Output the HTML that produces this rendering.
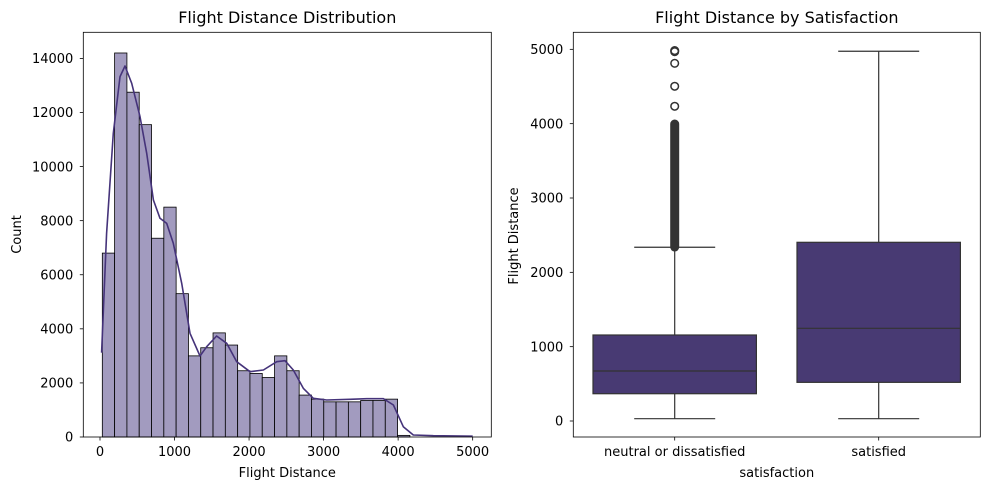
<!DOCTYPE html>
<html><head><meta charset="utf-8"><style>
html,body{margin:0;padding:0;background:#fff;}
svg{display:block;font-family:"DejaVu Sans","Liberation Sans",sans-serif;}
</style></head><body>
<svg id="chart" width="989" height="490" viewBox="0 0 989 490"></svg>
<script>
const histEdgesStart = 31;
const histBinWidth = 165.07;
const histCounts = [6800,14200,12750,11550,7350,8500,5300,3000,3300,3850,3400,2450,2350,2200,3000,2450,1550,1400,1300,1300,1300,1350,1350,1400,60,0,0,0,0,0];
const kdeX = [22,89,179,268,335,425,537,626,716,805,895,984,1096,1208,1342,1431,1565,1700,1834,2013,2192,2371,2482,2594,2728,2862,3041,3354,3578,3802,3936,4070,4204,4472,5000];
const kdeY = [3118,7532,11230,13325,13720,13078,11846,10490,8764,8086,7900,7162,5683,3834,2995,3340,3735,3464,2785,2415,2477,2785,2822,2477,1800,1430,1368,1393,1417,1417,1183,382,74,49,30];
const histXTicks = [0,1000,2000,3000,4000,5000];
const histYTicks = [0,2000,4000,6000,8000,10000,12000,14000];
const boxCategories = ["neutral or dissatisfied","satisfied"];
const boxWhiskerLow = [31,31];
const boxQ1 = [367,520];
const boxMedian = [673,1247];
const boxQ3 = [1157,2404];
const boxWhiskerHigh = [2337,4974];
const denseOutlierLow = [2340,null];
const denseOutlierHigh = [3995,null];
const isolatedOutliers = [4234,4503,4812,4969,4983];
const boxYTicks = [0,1000,2000,3000,4000,5000];

const NS="http://www.w3.org/2000/svg";
const svg=document.getElementById('chart');
function mk(tag,attrs,parent){const e=document.createElementNS(NS,tag);for(const k in attrs)e.setAttribute(k,attrs[k]);(parent||svg).appendChild(e);return e;}
function txt(s,attrs){const t=mk('text',attrs);t.textContent=s;return t;}
const TF=13, TT=16;

// ---------- Left: histogram ----------
const L={x0:83.3,x1:491.3,y0:32.3,y1:437};
const hx=v=>100+v*0.074533;
const hy=v=>437-v*0.027043;
const g1=mk('g',{});


histCounts.forEach((c,i)=>{
  if(c<=0)return;
  const a=histEdgesStart+i*histBinWidth;
  const r=mk('rect',{x:hx(a),y:hy(c),width:hx(a+histBinWidth)-hx(a),height:hy(0)-hy(c),fill:'#a29bbf',stroke:'#000','stroke-width':0.8},g1);
  
  
});
const kp=kdeX.map((x,i)=>hx(x).toFixed(1)+','+hy(kdeY[i]).toFixed(1)).join(' ');
const kl=mk('polyline',{points:kp,fill:'none',stroke:'#45337a','stroke-width':1.6,'stroke-linejoin':'round'},g1);


const f1=mk('rect',{x:L.x0,y:L.y0,width:L.x1-L.x0,height:L.y1-L.y0,fill:'none',stroke:'#000','stroke-width':0.8});


histXTicks.forEach(t=>{
  mk('line',{x1:hx(t),x2:hx(t),y1:L.y1,y2:L.y1+3.5,stroke:'#000','stroke-width':0.8});
  const e=txt(String(t),{x:hx(t),y:L.y1+19,'font-size':TF,'text-anchor':'middle',fill:'#000'});
  
  
});
histYTicks.forEach(t=>{
  mk('line',{x1:L.x0-3.5,x2:L.x0,y1:hy(t),y2:hy(t),stroke:'#000','stroke-width':0.8});
  const e=txt(String(t),{x:L.x0-10,y:hy(t)+4.7,'font-size':TF,'text-anchor':'end',fill:'#000'});
  
  
});
let e;
e=txt('Flight Distance Distribution',{x:(L.x0+L.x1)/2,y:23,'font-size':TT,'text-anchor':'middle'});


e=txt('Flight Distance',{x:(L.x0+L.x1)/2,y:477,'font-size':TF,'text-anchor':'middle'});


e=txt('Count',{x:0,y:0,'font-size':TF,'text-anchor':'middle',transform:'translate(21,234.5) rotate(-90)'});



// ---------- Right: boxplot ----------
const R={x0:573.3,x1:980.3,y0:32.3,y1:437};
const by=v=>421-v*0.074333;
const bcx=i=>674.7+i*204;
const halfW=81.7, capW=40.5;
const g2=mk('g',{});


boxCategories.forEach((c,i)=>{
  const cx=bcx(i);
  const st={stroke:'#333','stroke-width':1.2};
  let w=mk('line',Object.assign({x1:cx,x2:cx,y1:by(boxQ3[i]),y2:by(boxWhiskerHigh[i])},st),g2);
  
  
  w=mk('line',Object.assign({x1:cx,x2:cx,y1:by(boxQ1[i]),y2:by(boxWhiskerLow[i])},st),g2);
  
  
  mk('line',Object.assign({x1:cx-capW,x2:cx+capW,y1:by(boxWhiskerHigh[i]),y2:by(boxWhiskerHigh[i])},st),g2);
  mk('line',Object.assign({x1:cx-capW,x2:cx+capW,y1:by(boxWhiskerLow[i]),y2:by(boxWhiskerLow[i])},st),g2);
  const b=mk('rect',{x:cx-halfW,y:by(boxQ3[i]),width:2*halfW,height:by(boxQ1[i])-by(boxQ3[i]),fill:'#483a73',stroke:'#333','stroke-width':1.2},g2);
  
  
  const m=mk('line',Object.assign({x1:cx-halfW,x2:cx+halfW,y1:by(boxMedian[i]),y2:by(boxMedian[i])},st),g2);
  
  
  if(denseOutlierLow[i]!==null){
    const d=mk('rect',{x:cx-4.5,y:by(denseOutlierHigh[i])-4.5,width:9,height:by(denseOutlierLow[i])-by(denseOutlierHigh[i])+9,rx:4.5,fill:'#333'},g2);
    
    
  }
});
isolatedOutliers.forEach(v=>{
  const o=mk('circle',{cx:bcx(0),cy:by(v),r:3.8,fill:'none',stroke:'#333','stroke-width':1.5},g2);
  
  
});
const f2=mk('rect',{x:R.x0,y:R.y0,width:R.x1-R.x0,height:R.y1-R.y0,fill:'none',stroke:'#000','stroke-width':0.8});


boxYTicks.forEach(t=>{
  mk('line',{x1:R.x0-3.5,x2:R.x0,y1:by(t),y2:by(t),stroke:'#000','stroke-width':0.8});
  const e=txt(String(t),{x:R.x0-10,y:by(t)+4.7,'font-size':TF,'text-anchor':'end'});
  
  
});
boxCategories.forEach((c,i)=>{
  mk('line',{x1:bcx(i),x2:bcx(i),y1:R.y1,y2:R.y1+3.5,stroke:'#000','stroke-width':0.8});
  const e=txt(c,{x:bcx(i),y:R.y1+19,'font-size':TF,'text-anchor':'middle'});
  
  
});
e=txt('Flight Distance by Satisfaction',{x:(R.x0+R.x1)/2,y:23,'font-size':TT,'text-anchor':'middle'});


e=txt('satisfaction',{x:(R.x0+R.x1)/2,y:477,'font-size':TF,'text-anchor':'middle'});


e=txt('Flight Distance',{x:0,y:0,'font-size':TF,'text-anchor':'middle',transform:'translate(518,236) rotate(-90)'});


</script>
</body></html>
